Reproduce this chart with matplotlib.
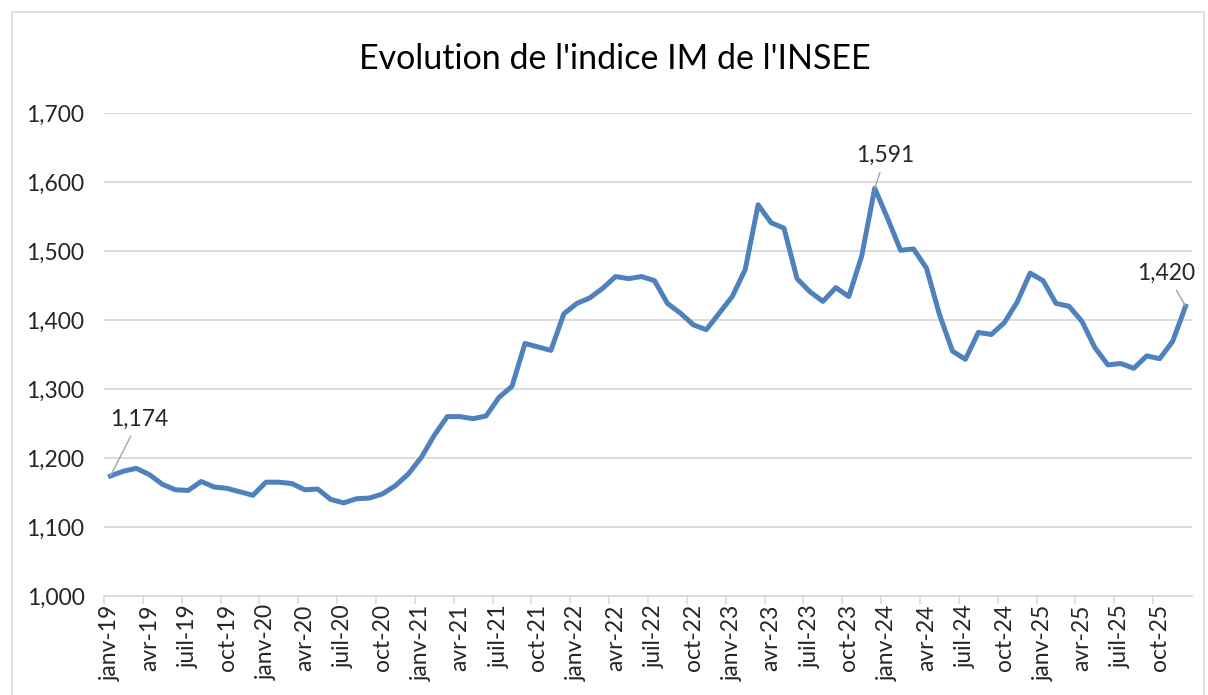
import matplotlib.pyplot as plt
from matplotlib.patches import Rectangle

# monthly values of the IM index, janv-19 .. dec-25
values = [
    1174, 1181, 1185, 1176, 1162, 1154, 1153, 1166, 1158, 1156, 1151, 1146,  # 2019
    1165, 1165, 1163, 1154, 1155, 1140, 1135, 1141, 1142, 1148, 1160, 1177,  # 2020
    1201, 1233, 1260, 1260, 1257, 1261, 1288, 1304, 1366, 1361, 1356, 1409,  # 2021
    1424, 1432, 1446, 1463, 1460, 1463, 1457, 1424, 1410, 1393, 1386, 1410,  # 2022
    1434, 1473, 1567, 1541, 1533, 1460, 1441, 1427, 1447, 1434, 1493, 1591,  # 2023
    1547, 1501, 1503, 1475, 1408, 1355, 1343, 1382, 1379, 1396, 1426, 1468,  # 2024
    1457, 1424, 1420, 1398, 1360, 1335, 1337, 1330, 1348, 1344, 1369, 1420,  # 2025
]
months = ['janv', 'févr', 'mars', 'avr', 'mai', 'juin',
          'juil', 'août', 'sept', 'oct', 'nov', 'déc']
years = ['19', '20', '21', '22', '23', '24', '25']
labels = [m + '-' + y for y in years for m in months]

# points that get a value label
labelled = [0, 59, 83]
label_offsets = {0: (29, 57), 59: (11, 33), 83: (-19, 33)}

plt.rcParams['font.family'] = ['Lato', 'DejaVu Sans']

fig = plt.figure(figsize=(12.08, 6.95), dpi=100)
ax = fig.add_axes([0.0861, 0.1424, 0.9007, 0.695])

x = list(range(len(values)))
ax.plot(x, values, color='#4F81BD', lw=3.6, solid_joinstyle='round', zorder=3)

for i in labelled:
    txt = '{:,}'.format(values[i])
    ax.annotate(txt, xy=(i, values[i]), xytext=label_offsets[i],
                textcoords='offset pixels', ha='center', va='center',
                fontsize=16.5, color='#262626',
                arrowprops=dict(arrowstyle='-', color='#A6A6A6', lw=1,
                                shrinkA=3, shrinkB=0))

ax.set_xlim(-0.5, len(values) - 0.5)
ax.set_ylim(1000, 1700)
ax.set_yticks(range(1000, 1701, 100))
ax.set_yticklabels(['{:,}'.format(v) for v in range(1000, 1701, 100)],
                   fontsize=16.5, color='#262626')
ax.tick_params(axis='y', length=0, pad=14)

# labels centred on the months, ticks on category boundaries
ax.set_xticks(x[::3])
ax.set_xticklabels(labels[::3], rotation=90, fontsize=16.5, color='#262626')
ax.set_xticks([i - 0.5 for i in x[::3]], minor=True)
ax.tick_params(axis='x', which='major', length=0, pad=6)
ax.tick_params(axis='x', which='minor', length=6, color='#D9D9D9', width=1.2)

ax.grid(axis='y', color='#D9D9D9', lw=1.3)
ax.set_axisbelow(True)
for s in ['left', 'right', 'top']:
    ax.spines[s].set_visible(False)
ax.spines['bottom'].set_color('#D9D9D9')
ax.spines['bottom'].set_linewidth(1.3)

fig.text(0.509, 0.915, "Evolution de l'indice IM de l'INSEE", ha='center',
         va='center', fontsize=24.5, color='#000000')

# outer chart border
fig.patches.append(Rectangle((0.0099, -0.01), 0.987, 0.993, transform=fig.transFigure,
                             fill=False, edgecolor='#D9D9D9', lw=1.2))

fig.savefig('out.png', dpi=100)
